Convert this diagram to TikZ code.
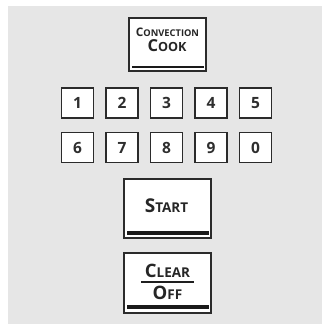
\documentclass[tikz,border=0pt]{standalone}
\usepackage{fontspec}
\setmainfont{Open Sans}
\definecolor{bg}{HTML}{E6E6E6}
\definecolor{edge}{HTML}{2B2B2B}
\definecolor{barc}{HTML}{1A1A1A}
\newcommand\capsc[4]{{\fontsize{#1}{#1}\selectfont #3}{\fontsize{#2}{#2}\selectfont #4}}
\begin{document}
\begin{tikzpicture}[x=1pt,y=-1pt,
  key/.style={draw=edge,line width=1.3pt,fill=white,inner sep=0pt},
  numkey/.style={key,minimum width=32pt,minimum height=30pt,font=\bfseries\fontsize{15.5}{15.5}\selectfont\color{black!82}},
  bigkey/.style={key,minimum width=87pt,minimum height=59pt},
  lbl/.style={inner sep=0pt,text=black!85,font=\bfseries},
  bar/.style={fill=barc}]
\useasboundingbox (0,0) rectangle (322,324);
\fill[bg] (8,6) rectangle (322,324);

% Convection Cook
\node[key,minimum width=77pt,minimum height=53pt] (cc) at (167.5,44.5) {};
\node[lbl] (ccA) at (167.5,32.5) {\capsc{11.8}{9.3}{C}{ONVECTION}};
\node[lbl] (ccB) at (167,46) {\capsc{16.5}{12.6}{C}{OOK}};
\fill[bar] (131.5,65.7) rectangle (203.5,68);

% number keys
\foreach \d [count=\i from 0] in {1,2,3,4,5}
  \node[numkey] (k\d) at (77.5+44.5*\i,103) {\d};
\foreach \d [count=\i from 0] in {6,7,8,9,0}
  \node[numkey] (k\d) at (77.5+44.5*\i,147.5) {\d};

% Start
\node[bigkey] (start) at (167.5,208.5) {};
\node[lbl] (startT) at (166.5,205.5) {\capsc{19}{13.5}{S}{TART}};
\fill[bar] (126.5,231) rectangle (208.5,235);

% Clear / Off
\node[bigkey,minimum height=60pt] (clear) at (167.5,283) {};
\node[lbl] (clearT) at (167.5,270.5) {\capsc{18.5}{13.5}{C}{LEAR}};
\node[lbl] (offT) at (167.5,292.5) {\capsc{18.5}{13.5}{O}{FF}};
\draw[line width=1.3pt,black!88] (141,282) -- (194,282);
\fill[bar] (126.5,305) rectangle (208.5,308.5);
\end{tikzpicture}
\end{document}
